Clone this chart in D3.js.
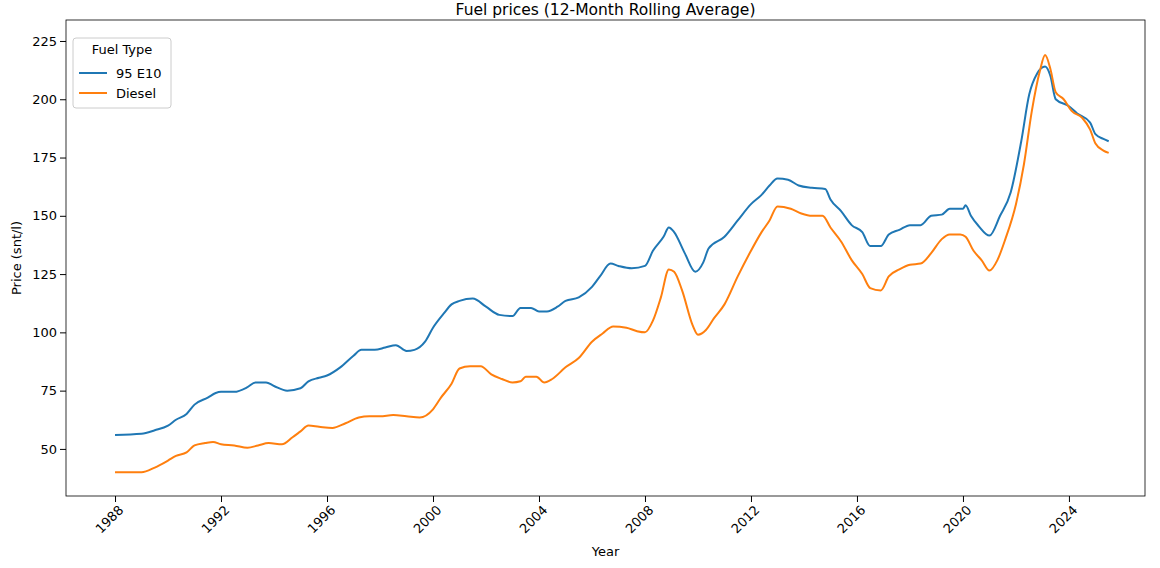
<!DOCTYPE html>
<html><head><meta charset="utf-8">
<script src="https://cdn.jsdelivr.net/npm/d3@7"></script>
<style>body{margin:0;background:#fff}text{font-family:"DejaVu Sans",sans-serif}</style>
</head><body><svg id="chart" width="1160" height="568"></svg>
<script>
const e10Years = [1988,1989,1989.5,1990,1990.3,1990.7,1991,1991.5,1991.8,1992,1992.5,1993,1993.3,1993.7,1994,1994.5,1995,1995.3,1995.7,1996,1996.5,1997,1997.3,1997.8,1998.2,1998.6,1999,1999.3,1999.7,2000,2000.4,2000.7,2001,2001.5,2002,2002.5,2003,2003.3,2003.7,2004,2004.3,2004.7,2005,2005.5,2006,2006.3,2006.7,2007,2007.5,2008,2008.3,2008.7,2008.9,2009.1,2009.5,2009.9,2010.2,2010.4,2011,2011.5,2012,2012.4,2012.7,2013,2013.4,2013.8,2014.3,2014.8,2015,2015.4,2015.8,2016.2,2016.5,2016.9,2017.2,2017.6,2018,2018.4,2018.8,2019.2,2019.5,2020,2020.1,2020.3,2020.6,2021,2021.4,2021.8,2022.2,2022.5,2022.8,2023.1,2023.3,2023.5,2024,2024.3,2024.8,2025,2025.3,2025.5];
const e10Prices = [56,56.5,58,60,62.5,65,69,72,74,74.5,74.5,76.5,78.5,78.5,77,75,76,79,80.5,81.5,85,90,92.5,92.5,93.5,94.5,92,92.5,96,102,108,112,113.5,114.5,111,107.5,107,110.5,110.5,109,109,111,113.5,115,119.5,124,129.5,128.5,127.5,128.5,135,141,145,143,134,126,130,136,141,148,155,159,163,166,165.5,163,162,161.5,157,152,146,143,137,137,142,144,146,146,150,150.5,153,153,154.5,150,145.5,141.5,150,160,182,202,211,214,210,200,197,194,190,185,183,182];
const dieselYears = [1988,1989,1989.5,1990,1990.3,1990.7,1991,1991.4,1991.7,1992,1992.5,1993,1993.4,1993.8,1994.3,1994.7,1995,1995.3,1995.7,1996.2,1996.7,1997.2,1997.6,1998,1998.5,1999,1999.5,2000,2000.3,2000.7,2001,2001.4,2001.8,2002.2,2002.6,2003,2003.3,2003.5,2003.9,2004.2,2004.5,2005,2005.5,2006,2006.4,2006.8,2007.3,2007.7,2008,2008.3,2008.6,2008.9,2009.1,2009.4,2009.8,2010,2010.3,2010.6,2011,2011.5,2012,2012.4,2012.7,2013,2013.5,2013.9,2014.3,2014.7,2015,2015.4,2015.8,2016.2,2016.5,2016.9,2017.2,2017.6,2018,2018.4,2018.8,2019.2,2019.5,2019.9,2020.1,2020.4,2020.7,2021,2021.3,2021.6,2022,2022.3,2022.6,2022.9,2023.1,2023.3,2023.5,2023.8,2024.1,2024.5,2024.8,2025,2025.3,2025.5];
const dieselPrices = [40,40,42,45,47,48.5,51.5,52.5,53,52,51.5,50.5,51.5,52.5,52,55,57.5,60,59.5,59,61,63.5,64,64,64.5,64,63.5,67,72,78,84.5,85.5,85.5,82,80,78.5,79,81,81,78.5,80,85,89,96,99.5,102.5,102,100.5,100,105,115,127,126,118,103,99,101,106,112,124,135,143,148,154,153,151,150,150,145,139,131,125,119,118,124,127,129,129.5,134,140,142,142,141,135,131,126.5,131,140,155,172,195,212,219,213,203,200,195,192,187,181,178,177];
const xTicks = [1988,1992,1996,2000,2004,2008,2012,2016,2020,2024];
const yTicks = [50,75,100,125,150,175,200,225];
const series = [
  {name:"95 E10", color:"#1f77b4", years:e10Years, prices:e10Prices},
  {name:"Diesel", color:"#ff7f0e", years:dieselYears, prices:dieselPrices}
];

const svg = d3.select("#chart");
const L=66, R=1145, T=20, B=496;
const x = d3.scaleLinear().domain([1986.15,2026.87]).range([L,R]);
const y = d3.scaleLinear().domain([29.8,234]).range([B,T]);

svg.append("rect").attr("x",L).attr("y",T).attr("width",R-L).attr("height",B-T)
  .attr("fill","none").attr("stroke","#000").attr("stroke-width",0.8);

const xa = svg.append("g").attr("transform","translate(0,"+B+")")
  .call(d3.axisBottom(x).tickValues(xTicks).tickFormat(d3.format("d")).tickSizeOuter(0));
xa.selectAll("text").attr("font-size",13).attr("text-anchor","end")
  .attr("transform","translate(-4,2) rotate(-45)").attr("dy","0.7em");
const ya = svg.append("g").attr("transform","translate("+L+",0)")
  .call(d3.axisLeft(y).tickValues(yTicks).tickSizeOuter(0));
ya.selectAll("text").attr("font-size",13);
svg.selectAll(".domain").remove();
svg.selectAll(".tick line").attr("stroke","#000");

const line = d3.line().x(d=>x(d[0])).y(d=>y(d[1])).curve(d3.curveMonotoneX);
series.forEach(s=>{
  svg.append("path").attr("d",line(d3.zip(s.years,s.prices)))
    .attr("fill","none").attr("stroke",s.color).attr("stroke-width",2);
});

svg.append("text").attr("x",(L+R)/2).attr("y",T-5).attr("text-anchor","middle").attr("font-size",15.5)
  .text("Fuel prices (12-Month Rolling Average)");
svg.append("text").attr("x",(L+R)/2).attr("y",556).attr("text-anchor","middle").attr("font-size",13).text("Year");
svg.append("text").attr("transform","translate(21,"+((T+B)/2)+") rotate(-90)").attr("text-anchor","middle").attr("font-size",13).text("Price (snt/l)");

const lg = svg.append("g").attr("transform","translate("+(L+7)+","+(T+18)+")");
lg.append("rect").attr("width",98).attr("height",70).attr("rx",3).attr("fill","#fff")
  .attr("stroke","#ccc");
lg.append("text").attr("x",49).attr("y",16).attr("text-anchor","middle").attr("font-size",13).text("Fuel Type");
series.forEach((s,i)=>{
  const yy = 35 + i*20;
  lg.append("line").attr("x1",6).attr("x2",34).attr("y1",yy).attr("y2",yy).attr("stroke",s.color).attr("stroke-width",2);
  lg.append("text").attr("x",43).attr("y",yy+4.5).attr("font-size",13).text(s.name);
});
</script></body></html>
